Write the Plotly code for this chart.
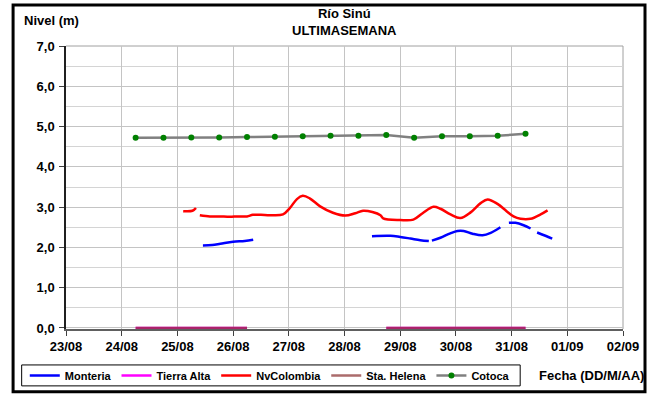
import plotly.graph_objects as go

# Water level readings, Río Sinú stations (metres)
cotoca_t = ["2010-08-24 06:00", "2010-08-24 18:00", "2010-08-25 06:00", "2010-08-25 18:00",
            "2010-08-26 06:00", "2010-08-26 18:00", "2010-08-27 06:00", "2010-08-27 18:00",
            "2010-08-28 06:00", "2010-08-28 18:00", "2010-08-29 06:00", "2010-08-29 18:00",
            "2010-08-30 06:00", "2010-08-30 18:00", "2010-08-31 06:00"]
cotoca_v = [4.72, 4.72, 4.73, 4.73, 4.74, 4.75, 4.76, 4.77, 4.77, 4.79,
            4.72, 4.76, 4.76, 4.77, 4.82]

nvcol_t = ["2010-08-25 02:30", "2010-08-25 06:30", "2010-08-25 08:00", "2010-08-25 09:00",
           "2010-08-25 09:40", "2010-08-25 14:00", "2010-08-25 18:00", "2010-08-25 22:40",
           "2010-08-26 02:00", "2010-08-26 06:00", "2010-08-26 08:30", "2010-08-26 12:00",
           "2010-08-26 16:00", "2010-08-26 21:30", "2010-08-27 00:30", "2010-08-27 03:30",
           "2010-08-27 06:00", "2010-08-27 09:00", "2010-08-27 13:30", "2010-08-27 19:00",
           "2010-08-28 00:20", "2010-08-28 04:40", "2010-08-28 08:00", "2010-08-28 12:00",
           "2010-08-28 15:30", "2010-08-28 16:40", "2010-08-29 00:00", "2010-08-29 05:40",
           "2010-08-29 09:40", "2010-08-29 14:20", "2010-08-29 17:20", "2010-08-29 21:40",
           "2010-08-30 01:55", "2010-08-30 06:20", "2010-08-30 10:40", "2010-08-30 13:40",
           "2010-08-30 17:55", "2010-08-30 21:50", "2010-08-31 00:50", "2010-08-31 03:50",
           "2010-08-31 08:10", "2010-08-31 12:30", "2010-08-31 15:30"]
nvcol_v = [2.90, 2.91, 2.98, None,
           2.80, 2.77, 2.77, 2.76,
           2.77, 2.77, 2.81, 2.81,
           2.80, 2.82, 2.98, 3.20,
           3.28, 3.22, 3.02, 2.86,
           2.79, 2.85, 2.91, 2.88,
           2.80, 2.72, 2.68, 2.69,
           2.85, 3.01, 2.96, 2.82,
           2.73, 2.87, 3.10, 3.19,
           3.08, 2.90, 2.77, 2.71,
           2.71, 2.82, 2.92]

monteria_t = ["2010-08-25 11:00", "2010-08-25 15:00", "2010-08-25 18:30", "2010-08-26 00:00",
              "2010-08-26 05:00", "2010-08-26 08:40", "2010-08-27 12:00",
              "2010-08-28 11:50", "2010-08-28 19:50", "2010-08-29 00:00", "2010-08-29 04:25",
              "2010-08-29 08:40", "2010-08-29 12:20", "2010-08-29 13:00",
              "2010-08-29 13:40", "2010-08-29 17:20", "2010-08-29 21:35", "2010-08-30 00:40",
              "2010-08-30 03:20", "2010-08-30 07:10", "2010-08-30 11:30", "2010-08-30 15:00",
              "2010-08-30 19:10", "2010-08-30 21:00",
              "2010-08-30 22:50", "2010-08-31 01:40", "2010-08-31 05:10", "2010-08-31 08:10",
              "2010-08-31 09:30",
              "2010-08-31 11:00", "2010-08-31 14:35", "2010-08-31 17:30"]
monteria_v = [2.05, 2.06, 2.09, 2.14,
              2.16, 2.19, None,
              2.28, 2.29, 2.26, 2.22,
              2.18, 2.16, None,
              2.17, 2.24, 2.35, 2.41,
              2.41, 2.34, 2.30, 2.36,
              2.50, None,
              2.61, 2.61, 2.55, 2.47,
              None,
              2.37, 2.29, 2.22]

zero_t = ["2010-08-24 06:00", "2010-08-24 18:00", "2010-08-25 06:00", "2010-08-25 18:00",
          "2010-08-26 06:00", "2010-08-27 12:00", "2010-08-28 18:00", "2010-08-29 06:00",
          "2010-08-29 18:00", "2010-08-30 06:00", "2010-08-30 18:00", "2010-08-31 06:00"]
tierra_alta_v = [0, 0, 0, 0, 0, None, 0, 0, 0, 0, 0, 0]
sta_helena_v = [0, 0, 0, 0, 0, None, 0, 0, 0, 0, 0, 0]

y_ticks = [0, 1, 2, 3, 4, 5, 6, 7]

FONT = "Liberation Sans, Arial, sans-serif"
BOLD13 = dict(family=FONT, size=13, color="black", weight="bold")

fig = go.Figure()
fig.add_trace(go.Scatter(x=monteria_t, y=monteria_v, name="Monteria", mode="lines",
                         line=dict(color="#0000ff", width=2.5, shape="spline"),
                         connectgaps=False))
fig.add_trace(go.Scatter(x=zero_t, y=tierra_alta_v, name="Tierra Alta", mode="lines",
                         line=dict(color="#ff00ff", width=2.5), connectgaps=False))
fig.add_trace(go.Scatter(x=nvcol_t, y=nvcol_v, name="NvColombia", mode="lines",
                         line=dict(color="#ff0000", width=2.5, shape="spline"),
                         connectgaps=False))
fig.add_trace(go.Scatter(x=zero_t, y=sta_helena_v, name="Sta. Helena", mode="lines",
                         line=dict(color="#8b3333", width=2.5), opacity=0.72,
                         connectgaps=False))
fig.add_trace(go.Scatter(x=cotoca_t, y=cotoca_v, name="Cotoca", mode="lines+markers",
                         line=dict(color="#808080", width=2.5),
                         marker=dict(color="#008000", size=6)))

grid = "#c4c4c4"
fig.update_layout(
    width=652, height=394,
    margin=dict(l=66, r=29, t=46, b=65, autoexpand=False),
    paper_bgcolor="white", plot_bgcolor="white",
    separators=",.",
    font=dict(family=FONT, size=13, color="black"),
    showlegend=True,
    legend=dict(orientation="h", x=-0.074, xanchor="left", y=-0.164, yanchor="middle",
                font=dict(family=FONT, size=11, color="black", weight="bold"),
                bgcolor="rgba(0,0,0,0)", borderwidth=0),
    xaxis=dict(type="date", range=["2010-08-23", "2010-09-02"],
               dtick=86400000, tick0="2010-08-23", tickformat="%d/%m",
               showgrid=True, gridcolor=grid, gridwidth=1,
               showline=True, linecolor="#606060", linewidth=1.5,
               ticks="outside", ticklen=5, tickcolor="#404040",
               tickfont=BOLD13, zeroline=False, layer="below traces"),
    yaxis=dict(range=[-0.025, 7], tickvals=y_ticks, tickformat=".1f",
               showgrid=True, gridcolor=grid, gridwidth=1,
               minor=dict(tickvals=[0.5, 1.5, 2.5, 3.5, 4.5, 5.5, 6.5],
                          showgrid=True, gridcolor="#d4d4d4"),
               showline=True, linecolor="#202020", linewidth=1.5,
               ticks="outside", ticklen=5, tickcolor="#404040",
               ticklabelstandoff=2,
               tickfont=BOLD13, zeroline=False, layer="below traces"),
)

# plot frame (top and right) and legend / outer borders
fig.add_shape(type="line", xref="paper", yref="paper", x0=0, x1=1, y0=1, y1=1,
              line=dict(color="#a0a0a0", width=1), layer="below")
fig.add_shape(type="line", xref="paper", yref="paper", x0=1, x1=1, y0=0, y1=1,
              line=dict(color="#a0a0a0", width=1), layer="below")
fig.add_shape(type="rect", xref="paper", yref="paper",
              x0=-0.0796, x1=0.8154, y0=-0.127, y1=-0.201,
              line=dict(color="black", width=1))
fig.add_shape(type="rect", xref="paper", yref="paper",
              x0=-0.095, x1=1.0395, y0=-0.222, y1=1.145,
              line=dict(color="black", width=3))

fig.add_annotation(text="Río Sinú<br>ULTIMASEMANA", xref="paper", yref="paper",
                   x=0.5, y=(329 - 22) / 283.3, xanchor="center", yanchor="middle",
                   showarrow=False, font=BOLD13)
fig.add_annotation(text="Nivel (m)", xref="paper", yref="paper",
                   x=(22 - 66.3) / 556.4, y=(329 - 20) / 283.3,
                   xanchor="left", yanchor="middle", showarrow=False, font=BOLD13)
fig.add_annotation(text="Fecha (DD/M/AA)", xref="paper", yref="paper",
                   x=(591 - 66.3) / 556.4, y=(329 - 376) / 283.3,
                   xanchor="center", yanchor="middle", showarrow=False, font=BOLD13)

fig.write_html("out.html")
